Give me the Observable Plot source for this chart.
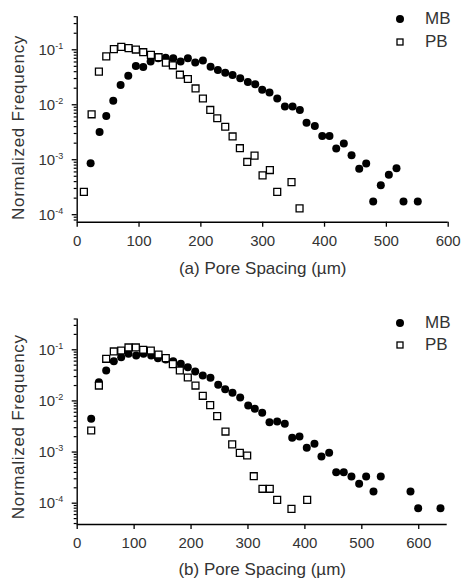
<!DOCTYPE html>
<html><head><meta charset="utf-8">
<script src="https://cdn.jsdelivr.net/npm/d3@7"></script>
<script src="https://cdn.jsdelivr.net/npm/@observablehq/plot@0.6"></script>
<style>
body{margin:0;background:#fff;font-family:"Liberation Sans",Arial,sans-serif;}
.panel{position:relative;width:461px;}
.panel svg{display:block;}
.leg{position:absolute;left:392px;height:22px;display:flex;align-items:center;font-size:17px;color:#333;}
.leg span{margin-left:17px;}
</style></head><body>
<div id="wrap"></div>
<script>
// ---- data ----
const seriesNames = ["MB", "PB"];
const yTicks = [1e-4, 1e-3, 1e-2, 1e-1];
const yExponents = ["-4", "-3", "-2", "-1"];
const yTitle = "Normalized Frequency";
const xTicksA = [0, 100, 200, 300, 400, 500, 600];
const xTicksB = [0, 100, 200, 300, 400, 500, 600];
const xTitleA = "(a) Pore Spacing (µm)";
const xTitleB = "(b) Pore Spacing (µm)";

const mbXA = [21.7,36.2,47,58.3,70.2,82.6,94.9,106.8,118.7,131,143,155.3,167.2,179,190.9,203.3,215.7,227.5,239.4,251.3,263.7,276,287.9,299.2,311,323.5,335.9,348.3,360.1,370.9,384.3,396.3,408,418.9,431.2,443.7,456.1,467.4,478.7,491,504,516.4,527.7,550.8];
const mbYA = [8.6e-4,3.2e-3,6.25e-3,1.18e-2,2.28e-2,3.38e-2,5.09e-2,4.88e-2,6.1e-2,7.0e-2,7.2e-2,7.0e-2,6.1e-2,7.0e-2,5.85e-2,6.37e-2,4.94e-2,4.3e-2,3.84e-2,3.48e-2,3.02e-2,2.59e-2,2.35e-2,1.87e-2,1.67e-2,1.30e-2,9.25e-3,9.25e-3,8.05e-3,4.71e-3,4.1e-3,2.69e-3,2.69e-3,1.6e-3,1.97e-3,1.2e-3,6.87e-4,8.5e-4,1.73e-4,3.44e-4,5.33e-4,6.96e-4,1.73e-4,1.73e-4];
const pbXA = [10.8,23.3,35.1,47,59.3,71.3,83.1,94.9,106.8,119.2,131.6,143.4,154.7,166.1,179,191.4,203.3,215.2,226.5,239.4,251.3,263.1,275,286.8,299.8,311.6,323.5,346.6,359.6];
const pbYA = [2.6e-4,6.7e-3,4.0e-2,7.6e-2,1.03e-1,1.13e-1,1.07e-1,1.01e-1,9.04e-2,8.1e-2,7.33e-2,5.85e-2,5.22e-2,3.52e-2,2.94e-2,1.98e-2,1.3e-2,8.05e-3,5.68e-3,3.98e-3,2.65e-3,1.62e-3,9.1e-4,1.19e-3,5.19e-4,6.49e-4,2.6e-4,3.91e-4,1.3e-4];

const mbXB = [24.6,38.1,50.9,64.3,77.3,90.1,103.6,116.5,130,141.8,155.6,168.6,182,194.3,207.3,220.6,234.1,247.7,260,272.8,286.3,300.4,312,325,337.8,351.3,364.7,377.7,390.5,403.3,416.8,429.1,442.6,455,468.3,481.8,495.3,507.6,520.5,533.3,585.5,599,638.2];
const mbYB = [4.47e-3,2.32e-2,3.94e-2,5.98e-2,7.16e-2,8.35e-2,7.74e-2,8.35e-2,7.74e-2,6.86e-2,6.45e-2,5.98e-2,5.32e-2,4.57e-2,3.77e-2,3.14e-2,2.83e-2,2.07e-2,1.7e-2,1.44e-2,1.17e-2,8.14e-3,7.02e-3,5.86e-3,3.84e-3,3.96e-3,3.57e-3,1.9e-3,2.02e-3,1.21e-3,1.45e-3,8.18e-4,9.66e-4,4.04e-4,4.04e-4,3.33e-4,2.39e-4,3.33e-4,1.69e-4,3.33e-4,1.69e-4,7.98e-5,7.98e-5];
const pbXB = [24.6,38.1,50.9,64.3,77.3,90.1,103,115.9,129.3,142.8,155.6,168,180.3,194.3,207.8,220.6,233.6,245.9,260.5,272.3,285.7,298.6,310.2,325.5,338.3,351.3,376.4,404];
const pbYB = [2.64e-3,2.0e-2,6.67e-2,9.27e-2,9.68e-2,1.11e-1,1.11e-1,1.0e-1,9.68e-2,8.09e-2,6.86e-2,5.23e-2,3.94e-2,2.87e-2,2.0e-2,1.26e-2,8.26e-3,5.04e-3,2.52e-3,1.41e-3,9.66e-4,8.56e-4,3.37e-4,1.91e-4,1.91e-4,1.16e-4,7.76e-5,1.16e-4];

// ---- drawing ----
function toRows(xs, ys) { return xs.map((x, i) => ({x, y: ys[i]})); }
function makePanel(cfg) {
  const mb = toRows(cfg.mbX, cfg.mbY);
  const pb = toRows(cfg.pbX, cfg.pbY);
  const [lo, hi] = cfg.yDomain;
  const minor = d3.range(-6, 0).flatMap(k => d3.range(2, 10).map(m => m * 10 ** k)).filter(v => v >= lo && v <= hi);
  const svg = Plot.plot({
    width: 461, height: cfg.height,
    marginLeft: 76.7, marginRight: cfg.marginRight, marginTop: cfg.marginTop, marginBottom: cfg.marginBottom,
    style: {fontFamily: '"Liberation Sans", Arial, sans-serif', fontSize: "15px", color: "#000", background: "#fff"},
    x: {domain: cfg.xDomain},
    y: {type: "log", domain: cfg.yDomain},
    marks: [
      Plot.axisY(minor, {tickSize: 3, tickFormat: () => "", strokeWidth: 1.2, label: null}),
      Plot.axisY(yTicks, {tickSize: 5, tickPadding: 9, strokeWidth: 1.3, fill: "#333",
        tickFormat: d => "10^" + yExponents[yTicks.indexOf(d)],
        label: yTitle, labelAnchor: "center", labelArrow: "none", labelOffset: 65}),
      Plot.axisX(cfg.xTicks, {tickSize: 5, tickPadding: 8, strokeWidth: 1.3, fill: "#333",
        label: cfg.xTitle, labelAnchor: "center", labelArrow: "none", labelOffset: cfg.labelOffset}),
      Plot.ruleX([cfg.xDomain[0]], {stroke: "#000", strokeWidth: 1.4}),
      Plot.ruleY([lo], {stroke: "#000", strokeWidth: 1.4}),
      Plot.dot(mb, {x: "x", y: "y", r: 4, fill: "#000", stroke: "none"}),
      Plot.dot(pb, {x: "x", y: "y", r: 3.9, symbol: "square", fill: "#fff", stroke: "#000", strokeWidth: 1.3})
    ]
  });
  // superscript exponents
  d3.select(svg).selectAll('g[aria-label="y-axis tick label"] text').each(function() {
    const t = this.textContent;
    if (!t.includes("^")) return;
    const [base, exp] = t.split("^");
    const sel = d3.select(this);
    sel.text(null);
    sel.append("tspan").text(base);
    sel.append("tspan").attr("font-size", "9px").attr("dy", "-6").text(exp);
  });
  d3.select(svg).selectAll('g[aria-label="y-axis label"], g[aria-label="x-axis label"]').attr("font-size", "17px").attr("fill", "#333");
  d3.select(svg).selectAll('g[aria-label="y-axis label"] text').attr("dx", cfg.yLabelShift).attr("letter-spacing", "0.7px");
  const div = document.createElement("div");
  div.className = "panel";
  div.appendChild(svg);
  cfg.legendTops.forEach((top, i) => {
    const row = document.createElement("div");
    row.className = "leg";
    row.style.top = top + "px";
    const marker = i === 0
      ? '<svg width="16" height="16"><circle cx="8" cy="8" r="4" fill="#000"/></svg>'
      : '<svg width="16" height="16"><rect x="5" y="5" width="6" height="6" fill="#fff" stroke="#000" stroke-width="1.3"/></svg>';
    row.innerHTML = marker + "<span>" + seriesNames[i] + "</span>";
    div.appendChild(row);
  });
  return div;
}

const wrap = document.getElementById("wrap");
wrap.appendChild(makePanel({mbX: mbXA, mbY: mbYA, pbX: pbXA, pbY: pbYA,
  xDomain: [0, 600], xTicks: xTicksA, xTitle: xTitleA, yDomain: [7.3e-5, 0.4],
  height: 290, marginTop: 16.2, marginBottom: 68.3, marginRight: 13.3, labelOffset: 52, legendTops: [8, 30.7], yLabelShift: -8}));
wrap.appendChild(makePanel({mbX: mbXB, mbY: mbYB, pbX: pbXB, pbY: pbYB,
  xDomain: [0, 650], xTicks: xTicksB, xTitle: xTitleB, yDomain: [3.83e-5, 0.4],
  height: 292, marginTop: 28.5, marginBottom: 58, marginRight: 14.3, labelOffset: 50, legendTops: [22, 44], yLabelShift: -5}));
</script>
</body></html>
